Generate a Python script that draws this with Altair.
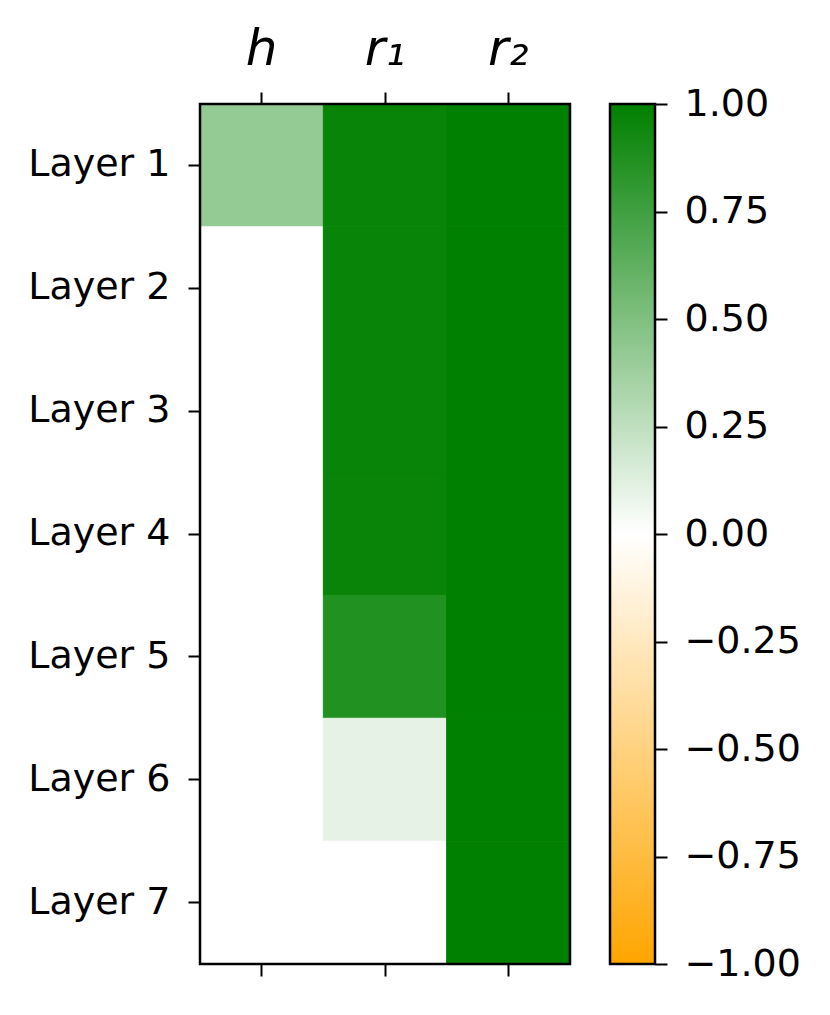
import altair as alt
import pandas as pd

layers = ["Layer 1", "Layer 2", "Layer 3", "Layer 4", "Layer 5", "Layer 6", "Layer 7"]
columns = ["h", "r₁", "r₂"]
h_vals = [0.42, 0.0, 0.0, 0.0, 0.0, 0.0, 0.0]
r1_vals = [0.97, 0.97, 0.97, 0.965, 0.87, 0.10, 0.0]
r2_vals = [1.0, 1.0, 1.0, 1.0, 1.0, 1.0, 1.0]
cbar_ticks = [-1.0, -0.75, -0.5, -0.25, 0.0, 0.25, 0.5, 0.75, 1.0]
cmap_colors = ["#ffa500", "#ffffff", "#008000"]

rows = []
for col, vals in zip(columns, [h_vals, r1_vals, r2_vals]):
    for lay, v in zip(layers, vals):
        rows.append({"col": col, "layer": lay, "value": v})
df = pd.DataFrame(rows)

FONT = "DejaVu Sans"
W, H, CBW = 370, 860, 45
xscale = alt.Scale(domain=columns, paddingInner=0, paddingOuter=0)
yscale = alt.Scale(domain=layers, paddingInner=0, paddingOuter=0)
cscale = alt.Scale(domain=[-1, 0, 1], range=cmap_colors, interpolate="rgb")

yaxis = alt.Axis(title=None, tickSize=12, labelPadding=18, labelFontSize=38,
                 labelFont=FONT, domain=False, tickColor="black",
                 tickWidth=2, labelColor="black")

frame_df = pd.DataFrame({"k": [0]})


def frame(w, h):
    return alt.Chart(frame_df).mark_rect(filled=False, stroke="black", strokeWidth=2.5).encode(
        x=alt.value(0), x2=alt.value(w), y=alt.value(0), y2=alt.value(h))


base = alt.Chart(df)
heat_top = base.mark_rect(strokeWidth=1).encode(
    x=alt.X("col:N", scale=xscale, sort=columns,
            axis=alt.Axis(orient="top", title=None, labelAngle=0, tickSize=12,
                          labelPadding=18, labelFontSize=50, labelFontStyle="italic",
                          labelFont=FONT, domain=False, tickColor="black",
                          tickWidth=2, labelColor="black")),
    y=alt.Y("layer:N", scale=yscale, sort=layers, axis=yaxis),
    color=alt.Color("value:Q", scale=cscale, legend=None),
    stroke=alt.Stroke("value:Q", scale=cscale, legend=None),
)
heat_bottom = base.mark_rect(opacity=0).encode(
    x=alt.X("col:N", scale=xscale, sort=columns,
            axis=alt.Axis(orient="bottom", title=None, labels=False, tickSize=12,
                          domain=False, tickColor="black", tickWidth=2)),
    y=alt.Y("layer:N", scale=yscale, sort=layers, axis=yaxis),
)
heat = alt.layer(heat_top, heat_bottom, frame(W, H)).resolve_axis(x="independent").properties(
    width=W, height=H)

cb_df = pd.DataFrame({"lo": [cbar_ticks[0]], "hi": [cbar_ticks[-1]]})
cbar_rect = alt.Chart(cb_df).mark_rect(
    fill=alt.Gradient(gradient="linear",
                      stops=[alt.GradientStop(color=cmap_colors[0], offset=0),
                             alt.GradientStop(color=cmap_colors[1], offset=0.5),
                             alt.GradientStop(color=cmap_colors[2], offset=1)],
                      x1=0, x2=0, y1=1, y2=0)
).encode(
    x=alt.value(0), x2=alt.value(CBW),
    y=alt.Y("lo:Q", scale=alt.Scale(domain=[-1, 1], nice=False, zero=False),
            axis=alt.Axis(orient="right", values=cbar_ticks, format=".2f", title=None,
                          tickSize=12, labelPadding=17, labelFontSize=38, labelFont=FONT,
                          grid=False, domain=False, tickColor="black", tickWidth=2,
                          labelColor="black")),
    y2="hi:Q",
)
cbar = alt.layer(cbar_rect, frame(CBW, H)).properties(width=CBW, height=H)

chart = alt.hconcat(heat, cbar, spacing=40, bounds="flush").configure_view(
    stroke=None
).properties(padding={"left": 19, "top": 16, "right": 5, "bottom": 5})

chart.save("out.html", embed_options={"renderer": "svg", "actions": False})
